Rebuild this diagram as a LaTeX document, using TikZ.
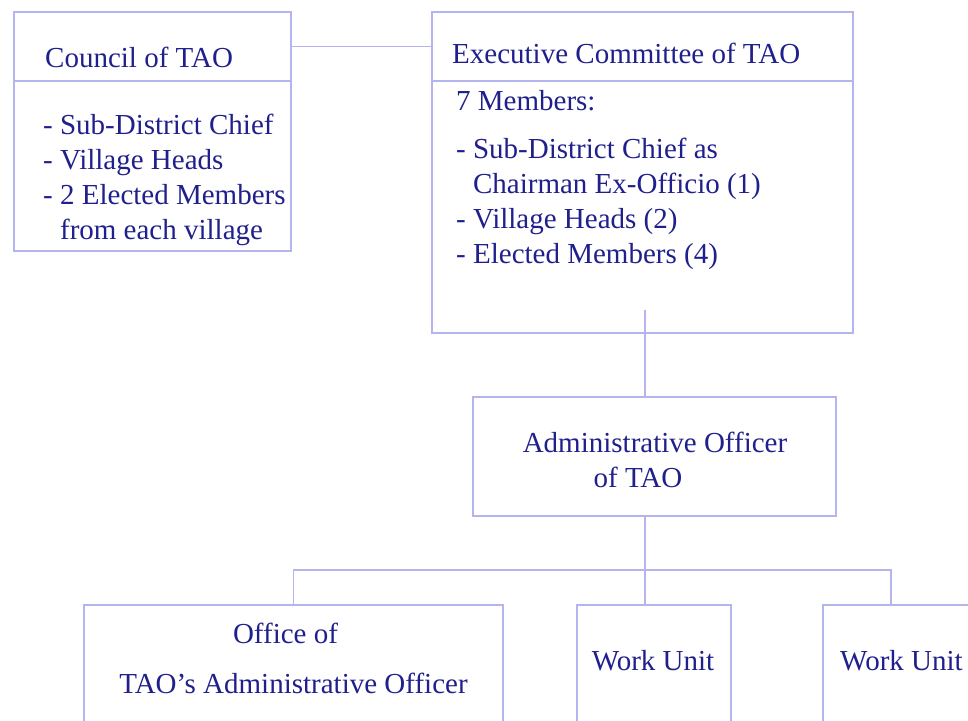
\documentclass[tikz,border=0pt]{standalone}
\usepackage{fontspec}
\setmainfont{Liberation Serif}
\usetikzlibrary{positioning}
\definecolor{frameblue}{RGB}{180,180,238}
\definecolor{inkblue}{RGB}{32,32,140}

\begin{document}
\begin{tikzpicture}[x=1pt,y=-1pt,
  orgbox/.style={draw=frameblue,line width=1.6pt,rectangle,inner sep=0pt,outer sep=0pt},
  entry/.style={text=inkblue,inner sep=0pt,font=\fontsize{29}{35}\selectfont},
  wire/.style={draw=frameblue,line width=1.6pt}]
\clip (0,0) rectangle (968,720);
\fill[white] (0,0) rectangle (968,720);

% council and executive committee
\node[orgbox,anchor=north west,minimum width=277pt,minimum height=69pt] (councilhead) at (14,12) {};
\node[orgbox,minimum width=277pt,minimum height=170pt,below=0pt of councilhead] (councilbody) {};
\node[orgbox,anchor=north west,minimum width=421pt,minimum height=69pt] (exechead) at (432,12) {};
\node[orgbox,minimum width=421pt,minimum height=252pt,below=0pt of exechead] (execbody) {};

% multi-line texts sit on the baseline of their last line
\node[entry,anchor=base west] (counciltitle) at (45,67) {Council of TAO};
\node[entry,anchor=base west,align=left] (councilmembers) at (43,239)
  {- Sub-District Chief\\- Village Heads\\- 2 Elected Members\\\hphantom{- }from each village};
\node[entry,anchor=base west] (exectitle) at (452,63) {Executive Committee of TAO};
\node[entry,anchor=base west,align=left] (execmembers) at (456,263)
  {7 Members:\\[13pt]- Sub-District Chief as\\\hphantom{- }Chairman Ex-Officio (1)\\- Village Heads (2)\\- Elected Members (4)};

% administrative officer
\node[orgbox,anchor=north west,minimum width=363pt,minimum height=119pt] (admin) at (473,397) {};
\node[entry,anchor=base,align=center] (admintitle) at (655,487) {Administrative Officer\\of TAO\hspace*{34pt}};

% lower units
\node[orgbox,anchor=north west,minimum width=419pt,minimum height=160pt] (office) at (84,605) {};
\node[orgbox,anchor=north west,minimum width=154pt,minimum height=160pt] (unitone) at (577,605) {};
\node[orgbox,anchor=north west,minimum width=177pt,minimum height=160pt] (unittwo) at (823,605) {};
\node[entry,anchor=base,align=center] (officetitle) at (293.5,693) {Office of\hspace*{16pt}\\[15pt]TAO’s Administrative Officer};
\node[entry,anchor=base] (unitonetitle) at (653,670) {Work Unit};
\node[entry,anchor=base west] (unittwotitle) at (840,670) {Work Unit};

% connectors
\coordinate (stem) at (645,310);
\coordinate (bus) at (645,570);
\coordinate (busend) at (891,570);
\draw[wire] (councilhead.east) -- (exechead.west);
\draw[wire] (stem) -- (stem |- admin.north);
\draw[wire] (stem |- admin.south) -- (bus);
\draw[wire] (office.north) |- (busend) -- (busend |- unittwo.north);
\draw[wire] (bus) -- (bus |- unitone.north);
\end{tikzpicture}
\end{document}
